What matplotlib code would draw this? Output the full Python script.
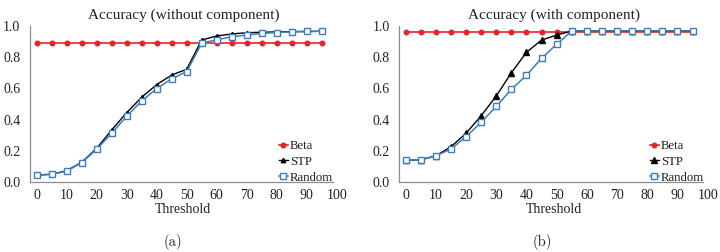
import matplotlib
matplotlib.use("Agg")
import matplotlib.pyplot as plt

thresholds = [0, 5, 10, 15, 20, 25, 30, 35, 40, 45, 50, 55, 60, 65, 70, 75, 80, 85, 90, 95]

beta_a = [0.893] * 20
stp_a = [0.045, 0.050, 0.072, 0.126, 0.215, 0.333, 0.444, 0.543, 0.624, 0.686, 0.722,
         0.910, 0.936, 0.949, 0.957, 0.960, 0.962, 0.964, 0.965, 0.966]
rand_a = [0.043, 0.049, 0.070, 0.124, 0.210, 0.312, 0.421, 0.519, 0.598, 0.662, 0.707,
          0.889, 0.912, 0.931, 0.942, 0.953, 0.958, 0.963, 0.965, 0.966]

beta_b = [0.960] * 20
stp_b = [0.139, 0.143, 0.167, 0.226, 0.312, 0.425, 0.551, 0.700, 0.831, 0.910, 0.942,
         0.968, 0.968, 0.968, 0.968, 0.968, 0.968, 0.968, 0.968, 0.968]
rand_b = [0.139, 0.143, 0.167, 0.212, 0.290, 0.383, 0.485, 0.594, 0.684, 0.793, 0.883,
          0.968, 0.968, 0.968, 0.968, 0.968, 0.968, 0.968, 0.968, 0.968]

titles = ["Accuracy (without component)", "Accuracy (with component)"]
captions = ["(a)", "(b)"]
xticks = [0, 10, 20, 30, 40, 50, 60, 70, 80, 90, 100]
yticks = [0.0, 0.2, 0.4, 0.6, 0.8, 1.0]

W, H = 720, 252
fig = plt.figure(figsize=(7.2, 2.52), dpi=100)
serif = "Liberation Serif"
RED = "#e3262b"
BLUE = "#3c7cbf"
GRAY = "#8c8c8c"

panels = [
    dict(l=30, r=336.7, xmin=-2.2, spine_end=98.9, data=(beta_a, stp_a, rand_a), tri=3.2, cap=173),
    dict(l=399.3, r=707.7, xmin=-2.1, spine_end=98.5, data=(beta_b, stp_b, rand_b), tri=4.5, cap=542.7),
]
top, bot = 26, 182
for i, p in enumerate(panels):
    ax = fig.add_axes([p["l"] / W, 1 - bot / H, (p["r"] - p["l"]) / W, (bot - top) / H])
    beta, stp, rnd = p["data"]
    ax.plot(thresholds, beta, color=RED, lw=1.2, marker="o", ms=3.3, mfc=RED, mec=RED, label="Beta", zorder=2)
    ax.plot(thresholds, stp, color="black", lw=1.0, marker="^", ms=p["tri"], mfc="black", mec="black", label="STP", zorder=3)
    ax.plot(thresholds, rnd, color=BLUE, lw=1.1, marker="s", ms=4.0, mfc="white", mec=BLUE, mew=1.0, label="Random", zorder=4)
    ax.set_xlim(p["xmin"], 100)
    ax.set_ylim(0, 1.0)
    ax.set_xticks(xticks)
    ax.set_yticks(yticks)
    ax.set_yticklabels([f"{v:.1f}" for v in yticks])
    for s in ["top", "right"]:
        ax.spines[s].set_visible(False)
    for s in ["left", "bottom"]:
        ax.spines[s].set_color(GRAY)
        ax.spines[s].set_linewidth(0.9)
    ax.spines["bottom"].set_bounds(p["xmin"], p["spine_end"])
    ax.tick_params(axis="both", length=0, labelsize=10, colors="#222222")
    ax.tick_params(axis="y", pad=7)
    ax.tick_params(axis="x", pad=5)
    for lab in ax.get_xticklabels() + ax.get_yticklabels():
        lab.set_fontfamily(serif)
    ax.set_xlabel("Threshold", fontfamily=serif, fontsize=10, labelpad=1, color="#222222")
    ax.set_title(titles[i], fontfamily=serif, fontsize=11, pad=5, color="#222222")
    leg = ax.legend(loc="lower right", bbox_to_anchor=(1.013, -0.06), frameon=False,
                    prop={"family": serif, "size": 9.2}, handlelength=0.7,
                    handletextpad=0.15, labelspacing=0.3, borderaxespad=0.2)
    for t in leg.get_texts():
        t.set_color("#222222")
    fig.text(p["cap"] / W, 1 - 241.7 / H, captions[i], fontfamily="cmr10",
             fontsize=10.5, ha="center", va="center", color="#222222")

fig.savefig("out.png", dpi=100)
